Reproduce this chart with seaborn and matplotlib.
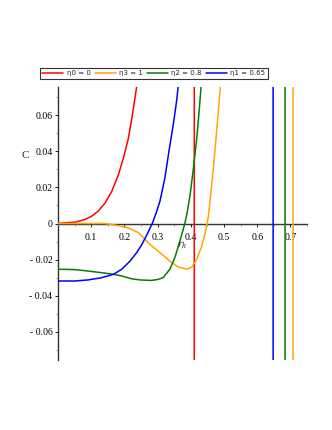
import matplotlib
matplotlib.use("Agg")
import matplotlib.pyplot as plt
from matplotlib.ticker import MultipleLocator
import seaborn as sns
import pandas as pd

# ---- data ----
labels = ["η0 = 0", "η3 = 1", "η2 = 0.8", "η1 = 0.65"]
colors = ["#ff0000", "#ffa500", "#008000", "#0000ff"]

red_x = [0.0, 0.021, 0.051, 0.081, 0.101, 0.121, 0.142, 0.162, 0.182, 0.197, 0.212, 0.224, 0.237,
         0.26, 0.32, 0.38, 0.4095, 0.4115, 0.5, 0.75]
red_y = [0.0, 0.0004, 0.0007, 0.0022, 0.004, 0.0068, 0.0114, 0.0178, 0.027, 0.0362, 0.0472, 0.060, 0.0757,
         0.1, 0.3, 1.0, 5.0, -5.0, -0.5, -0.2]

orange_x = [0.0, 0.1, 0.142, 0.182, 0.212, 0.242, 0.277, 0.307, 0.337, 0.362, 0.388, 0.403, 0.418, 0.433,
            0.444, 0.453, 0.46, 0.468, 0.476, 0.483, 0.489, 0.52, 0.6, 0.707, 0.709, 0.75]
orange_y = [0.0, 0.0, 0.0, -0.0012, -0.0025, -0.005, -0.0116, -0.0161, -0.0208, -0.0241, -0.0253, -0.0241, -0.0198, -0.0125,
            -0.0045, 0.004, 0.016, 0.0307, 0.0472, 0.0619, 0.0757, 0.2, 1.0, 5.0, -5.0, -0.5]

green_x = [0.0, 0.051, 0.091, 0.131, 0.167, 0.192, 0.222, 0.247, 0.28, 0.3, 0.317, 0.337, 0.352, 0.367,
           0.382, 0.388, 0.398, 0.408, 0.418, 0.425, 0.431, 0.46, 0.55, 0.683, 0.685, 0.75]
green_y = [-0.0253, -0.0255, -0.0263, -0.0272, -0.0281, -0.029, -0.0306, -0.0312, -0.0315, -0.031, -0.0299, -0.0253, -0.0189, -0.0097,
           0.0, 0.005, 0.016, 0.0307, 0.0472, 0.0619, 0.0757, 0.15, 0.8, 5.0, -5.0, -0.5]

blue_x = [0.0, 0.051, 0.091, 0.131, 0.167, 0.192, 0.217, 0.237, 0.252, 0.267, 0.284, 0.297, 0.307, 0.322,
          0.334, 0.347, 0.357, 0.362, 0.39, 0.5, 0.647, 0.649, 0.75]
blue_y = [-0.0318, -0.0318, -0.0312, -0.030, -0.0281, -0.0253, -0.0208, -0.0161, -0.0118, -0.0065, 0.0, 0.0065, 0.0123, 0.0252,
          0.0398, 0.0545, 0.0674, 0.0757, 0.12, 0.6, 5.0, -5.0, -0.5]

x_ticks = [0.1, 0.2, 0.3, 0.4, 0.5, 0.6, 0.7]
y_ticks = [-0.06, -0.04, -0.02, 0.0, 0.02, 0.04, 0.06]

series = [(red_x, red_y), (orange_x, orange_y), (green_x, green_y), (blue_x, blue_y)]
frames = []
for lab, (xs, ys) in zip(labels, series):
    frames.append(pd.DataFrame({"r": xs, "C": ys, "s": lab}))
df = pd.concat(frames, ignore_index=True)

sns.set_theme(style="white")
plt.rcParams["font.family"] = ["Liberation Serif", "DejaVu Serif"]
plt.rcParams["mathtext.fontset"] = "stix"

fig = plt.figure(figsize=(3.32, 4.30), dpi=100)
ax = fig.add_axes([58 / 332, 1 - 360 / 430, 249 / 332, 273 / 430])

for lab, col in zip(labels, colors):
    sub = df[df["s"] == lab]
    sns.lineplot(data=sub, x="r", y="C", ax=ax, color=col, lw=1.1, sort=False,
                 estimator=None, label=lab, legend=False)
for ln in ax.get_lines():
    ln.set_solid_joinstyle("round")

ax.set_xlim(0, 0.75)
ax.set_ylim(-0.0755, 0.0755)
ax.spines["top"].set_visible(False)
ax.spines["right"].set_visible(False)
ax.spines["bottom"].set_position(("data", 0))
ax.spines["left"].set_position(("data", 0))
for sp in ("left", "bottom"):
    ax.spines[sp].set_color("#333333")
    ax.spines[sp].set_linewidth(1.0)
    ax.spines[sp].set_zorder(0.5)

ax.set_xticks(x_ticks)
ax.set_xticklabels([f"{v:g}" for v in x_ticks])
ax.set_yticks(y_ticks)
ax.set_yticklabels(["0" if v == 0 else ("- " + f"{abs(v):g}" if v < 0 else f"{v:g}") for v in y_ticks])
ax.xaxis.set_minor_locator(MultipleLocator(0.05))
ax.yaxis.set_minor_locator(MultipleLocator(0.01))
ax.tick_params(axis="both", which="major", labelsize=7, colors="#000000", length=2, width=0.6,
               direction="out", pad=2, bottom=True, left=True)
ax.tick_params(axis="both", which="minor", length=1.5, width=0.5, color="#666666",
               direction="out", bottom=True, left=True)
ax.tick_params(axis="x", which="major", pad=5)
ax.set_xlabel("")
ax.set_ylabel("")

fig.text(25 / 332, 1 - 155 / 430, "C", fontsize=8, ha="center", va="center")
ax.text(0.373, -0.0125, r"$r_h$", fontsize=8, ha="center", va="center")

handles = ax.get_lines()[:4]
leg = fig.legend(handles, labels, loc="upper left", bbox_to_anchor=(40 / 332, 1 - 68 / 430),
                 ncol=4, frameon=True, fancybox=False, edgecolor="black",
                 borderpad=0.35, handlelength=3.0, handletextpad=0.5, columnspacing=0.6,
                 borderaxespad=0.0, prop={"family": "DejaVu Sans", "size": 5})
leg.get_frame().set_linewidth(0.8)

fig.savefig("out.png", dpi=100, facecolor="white")
